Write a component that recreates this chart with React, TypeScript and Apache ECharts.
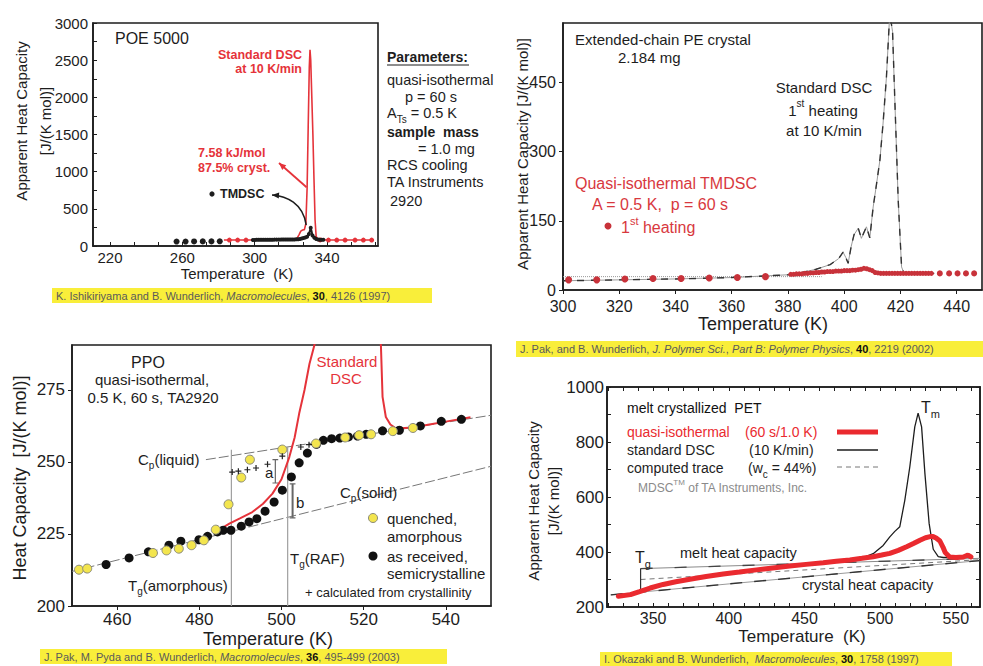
import React, { useEffect, useRef } from "react";
import * as echarts from "echarts";

const FONT = "'Liberation Sans', Arial, Helvetica, sans-serif";
const INK = "#1d1d1d";
const RED = "#e5333a";
const PET_RED = "#ea2a2f";
const HILITE = "#f9ee3a";
const YELLOW_DOT = "#f3e54e";

/* ---------- POE 5000 ---------- */
const POE_X_LABELS = [220, 260, 300, 340];
const POE_X_TICKS = [220, 233.3, 246.7, 260, 273.3, 286.7, 300, 313.3, 326.7, 340, 353.3, 366.7];
const POE_Y_LABELS = [0, 500, 1000, 1500, 2000, 2500, 3000];
const POE_Y_TICKS = [0, 250, 500, 750, 1000, 1250, 1500, 1750, 2000, 2250, 2500, 2750, 3000];
const POE_DSC_T = [283, 300, 320, 323, 324.5, 325.5, 326.5, 327.5, 328.3, 329, 329.6, 330.2, 330.6, 331, 331.6, 332.2, 332.8, 333.4, 334, 335, 340, 350, 366];
const POE_DSC_CP = [80, 80, 80, 85, 150, 200, 215, 220, 300, 780, 1600, 2400, 2640, 2500, 2000, 1500, 900, 350, 130, 85, 80, 80, 80];
const POE_DSC_DOT_T = [286, 290.6, 295.2, 336.2, 340.8, 345.4, 350, 355.5, 360.1, 364.7];
const POE_DSC_DOT_CP = [80, 80, 80, 82, 80, 80, 80, 80, 80, 80];
const POE_TM_T = [256.8, 261.8, 266.5, 271.3, 276.1, 280.7];
const POE_TM_CP = [60, 60, 61, 62, 62, 63];
const POE_TM_RUN_T = [299, 300, 301, 302, 303, 304, 305, 306, 307, 308, 309, 310, 311, 312, 313, 314, 315, 316, 317, 318, 319, 320, 321, 322, 323, 324, 325, 326, 327, 328, 329, 330, 331, 332, 333, 334, 335, 336, 337, 338];
const POE_TM_RUN_CP = [82, 82, 83, 83, 83, 84, 84, 84, 85, 85, 85, 85, 86, 86, 86, 86, 87, 87, 87, 87, 88, 88, 88, 88, 90, 92, 95, 100, 108, 115, 125, 160, 245, 140, 110, 95, 88, 85, 84, 84];

/* ---------- extended-chain PE ---------- */
const PE_X_LABELS = [300, 320, 340, 360, 380, 400, 420, 440];
const PE_Y_LABELS = [0, 150, 300, 450];
const PE_DSC_T = [300, 320, 340, 360, 380, 385, 390, 395, 398, 399.6, 400.6, 401.4, 402.5, 403.5, 405, 406.1, 407.9, 409.1, 410.3, 411.5, 412.7, 413.8, 415, 416.2, 417.2, 418, 419.2, 420.4, 421.3, 425, 432];
const PE_DSC_CP = [20, 22, 24, 27, 33, 38, 45, 55, 68, 82, 70, 58, 95, 120, 134, 112, 137, 113, 180, 230, 282, 360, 460, 600, 560, 412, 195, 50, 36, 36, 36];
const PE_BASE_T = [300, 392];
const PE_BASE_CP = [29, 29];
const PE_TM_T = [302, 312, 322, 332, 342, 352, 362, 372];
const PE_TM_CP = [22, 22, 24, 25, 25, 26, 27, 29];
const PE_TM_RUN_T = [381, 382, 383, 384, 385, 386, 387, 388, 389, 390, 391, 392, 393, 394, 395, 396, 397, 398, 399, 400, 401, 402, 403, 404, 405, 406, 407, 408, 409, 410, 411, 412, 413, 414, 415, 416, 417, 418, 419, 420, 421, 422, 423, 424, 425, 426, 427, 428, 429, 430, 431];
const PE_TM_RUN_CP = [34, 34, 35, 35, 35, 36, 36, 37, 37, 38, 38, 39, 39, 40, 40, 40, 41, 41, 41, 42, 42, 42, 43, 43, 44, 45, 47, 46, 44, 42, 38, 37, 36, 36, 36, 36, 36, 36, 36, 36, 36, 36, 36, 36, 36, 36, 36, 36, 36, 36, 36];
const PE_TM_TAIL_T = [434, 437.3, 440.3, 443.3, 446.2];
const PE_TM_TAIL_CP = [36, 36, 36, 36, 36];

/* ---------- PPO ---------- */
const PPO_X_LABELS = [460, 480, 500, 520, 540];
const PPO_Y_LABELS = [200, 225, 250, 275];
const PPO_BLACK_T = [457.3, 462.9, 467.6, 472.6, 475.5, 479.9, 482, 484.4, 485.8, 487.7, 490.2, 492.1, 494, 496, 498.2, 500.2, 502.4, 504.3, 506.3, 508.5, 510.2, 512.2, 514.2, 516.3, 518.5, 520.6, 524.6, 528.7, 533.8, 538.9, 543.8];
const PPO_BLACK_CP = [214.4, 216.7, 218.8, 221.1, 222.5, 223, 224.2, 225.7, 226.3, 226.3, 227.7, 229.2, 230.3, 232.9, 236.1, 240.2, 244.8, 249.7, 253.1, 256.1, 257.5, 258.1, 258.3, 258.7, 259, 259.6, 260.8, 261, 262.5, 264.1, 264.8];
const PPO_YELLOW_T = [450.7, 452.7, 468.7, 472, 475, 478.1, 481.1, 484, 487.1, 490.2, 492.3, 500.2, 508.4, 515.5, 518.9, 521.8, 527.1, 532];
const PPO_YELLOW_CP = [212.6, 213, 218.4, 219.3, 219.9, 221.1, 222.8, 226.5, 235.3, 244.6, 250.8, 254.3, 256.4, 258.5, 259.3, 259.6, 260.7, 261.8];
const PPO_PLUS_T = [488, 489.5, 491.7, 493.8, 496.6, 500.2, 504.7, 506.7];
const PPO_PLUS_CP = [246.5, 246.8, 247.3, 247.9, 249.2, 252, 255.2, 256];
const PPO_DSC_T = [485.5, 487.3, 490, 492.9, 495.5, 497.8, 500, 501.9, 503.2, 504.3, 505.6, 506.8, 508, 509, 510, 522, 523.5, 524.2, 524.6, 525.4, 526.5, 527.9, 532, 536, 540, 546];
const PPO_DSC_CP = [227, 228.6, 230.5, 232.6, 235.5, 239, 244, 251.7, 258.5, 266.8, 275, 284, 290.5, 300, 320, 320, 300, 290.5, 272.6, 265.6, 263, 261.6, 262, 263, 264, 265.5];
const PPO_LIQ_T = [481.6, 551];
const PPO_LIQ_CP = [250.8, 266.2];
const PPO_SOL_T = [449, 551];
const PPO_SOL_CP = [212, 248.5];
const PPO_TG_T = [487.8, 501.5];
const PPO_TG_TOP = [254.2, 255.2];
const PPO_BRACKET_T = [498.5, 502.7];
const PPO_BRACKET_LOW = [242.7, 230.6];
const PPO_BRACKET_HIGH = [250.8, 242.4];

/* ---------- PET ---------- */
const PET_X_LABELS = [350, 400, 450, 500, 550];
const PET_X_TICKS = [320, 330, 340, 350, 360, 370, 380, 390, 400, 410, 420, 430, 440, 450, 460, 470, 480, 490, 500, 510, 520, 530, 540, 550, 560];
const PET_Y_LABELS = [200, 400, 600, 800, 1000];
const PET_Y_TICKS = [200, 300, 400, 500, 600, 700, 800, 900, 1000];
const PET_QI_T = [327, 335, 341, 348, 356.6, 365, 374.3, 385, 396.3, 407, 418.3, 429, 440.3, 451, 462.4, 471, 480, 488, 495.4, 501, 506.4, 512, 517.5, 522, 526.3, 530, 533, 535, 537, 539.5, 541.5, 543, 546, 550, 555, 558, 560];
const PET_QI_CP = [239, 245, 256, 269, 282, 292, 301, 311, 320, 327, 335, 342, 349, 355, 361, 366, 371, 377, 383, 389, 395, 406, 419, 431, 443, 452, 456, 456, 451, 440, 418, 398, 382, 380, 382, 389, 382];
const PET_DSC_T = [470, 480, 484.4, 488.8, 495.4, 502, 506.4, 509.7, 513, 516.3, 519.6, 522.9, 525.1, 527.4, 529.6, 532.4, 535.1, 538.4, 541.7, 550, 560];
const PET_DSC_CP = [367, 369, 371, 380, 394, 424, 455, 475, 492, 588, 709, 855, 905, 855, 685, 503, 410, 383, 380, 380, 381];
const PET_MELT_T = [341.7, 566];
const PET_MELT_CP = [339.6, 377];
const PET_CALC_T = [341.7, 566];
const PET_CALC_CP = [300, 372];
const PET_CRYST_T = [322, 566];
const PET_CRYST_CP = [244, 369];
const PET_TG_T = 341.7;
const PET_TG_RANGE = [254, 339.6];

const pts = (xs: number[], ys: number[]) => xs.map((x, i) => [x, ys[i]]);
const on = (g: number) => ({ xAxisIndex: g, yAxisIndex: g });

function axis(
  grid: number,
  min: number,
  max: number,
  labels: number[],
  ticks: number[],
  o: { inside: boolean; size: number; margin: number; position?: string; hide?: boolean; width?: number }
) {
  return {
    type: "value",
    gridIndex: grid,
    min,
    max,
    position: o.position,
    axisLine: { show: true, onZero: false, lineStyle: { color: INK, width: o.width ?? 1.6 } },
    axisTick: { show: true, inside: o.inside, length: 4, customValues: ticks, lineStyle: { color: INK, width: 1 } },
    axisLabel: {
      show: !o.hide,
      customValues: labels,
      margin: o.margin,
      fontSize: o.size,
      fontFamily: FONT,
      color: INK,
      hideOverlap: false,
      formatter: (v: number) => String(v),
    },
    splitLine: { show: false },
  };
}

function lineSeries(g: number, data: number[][], color: string, width: number, extra: any = {}) {
  return {
    type: "line",
    ...on(g),
    data,
    symbol: "none",
    silent: true,
    clip: true,
    z: extra.z ?? 2,
    lineStyle: { color, width, type: extra.type ?? "solid", cap: extra.cap ?? "butt" },
  };
}

function dotSeries(g: number, data: number[][], color: string, size: number, extra: any = {}) {
  return {
    type: "scatter",
    ...on(g),
    data,
    symbol: extra.symbol ?? "circle",
    symbolSize: size,
    silent: true,
    z: extra.z ?? 3,
    itemStyle: { color, borderColor: extra.border ?? color, borderWidth: extra.borderWidth ?? 0, opacity: 1 },
  };
}

function buildOption() {
  const grids = [
    { left: 93, top: 23, width: 285, height: 223 },
    { left: 563, top: 23, width: 419, height: 267 },
    { left: 72, top: 345, width: 419, height: 261 },
    { left: 607, top: 387, width: 373, height: 220 },
  ].map((g) => ({
    ...g,
    show: true,
    borderColor: INK,
    borderWidth: 1.6,
    backgroundColor: "transparent",
    containLabel: false,
    outerBoundsMode: "none",
  }));

  const xAxis = [
    axis(0, 210.6, 368.2, POE_X_LABELS, POE_X_TICKS, { inside: true, size: 15, margin: 4 }),
    axis(1, 300, 449, PE_X_LABELS, PE_X_LABELS, { inside: false, size: 16, margin: 8 }),
    axis(2, 449, 551, PPO_X_LABELS, PPO_X_LABELS, { inside: false, size: 17, margin: 5 }),
    axis(3, 319.5, 566, PET_X_LABELS, PET_X_TICKS, { inside: true, size: 16, margin: 3 }),
    axis(3, 319.5, 566, PET_X_LABELS, PET_X_TICKS, { inside: true, size: 16, margin: 3, position: "top", hide: true }),
  ];
  const yAxis = [
    axis(0, 0, 3000, POE_Y_LABELS, POE_Y_TICKS, { inside: true, size: 15, margin: 5 }),
    axis(1, 0, 579, PE_Y_LABELS, PE_Y_LABELS, { inside: false, size: 16, margin: 7 }),
    axis(2, 200, 290.6, PPO_Y_LABELS, PPO_Y_LABELS, { inside: false, size: 17, margin: 7 }),
    axis(3, 200, 1000, PET_Y_LABELS, PET_Y_TICKS, { inside: true, size: 17, margin: 3 }),
    axis(3, 200, 1000, PET_Y_LABELS, PET_Y_TICKS, { inside: true, size: 17, margin: 3, position: "right", hide: true }),
  ];

  // reference lines of the PPO panel: glass-transition markers and the a / b brackets
  const ppoRefs: any[] = [];
  PPO_TG_T.forEach((t, i) => ppoRefs.push(lineSeries(2, [[t, 200], [t, PPO_TG_TOP[i]]], "#a0a0a0", 1.2)));
  PPO_BRACKET_T.forEach((t, i) => {
    const lo = PPO_BRACKET_LOW[i];
    const hi = PPO_BRACKET_HIGH[i];
    const w = i === 0 ? 1.2 : 2;
    ppoRefs.push(lineSeries(2, [[t, lo], [t, hi]], "#666", w));
    ppoRefs.push(lineSeries(2, [[t - 0.7, lo], [t + 0.7, lo]], "#666", 1.2));
    ppoRefs.push(lineSeries(2, [[t - 0.7, hi], [t + 0.7, hi]], "#666", 1.2));
  });

  const series: any[] = [
    // POE 5000
    lineSeries(0, pts(POE_DSC_T, POE_DSC_CP), RED, 1.6),
    dotSeries(0, pts(POE_DSC_DOT_T, POE_DSC_DOT_CP), RED, 5),
    {
      ...lineSeries(0, pts(POE_TM_RUN_T, POE_TM_RUN_CP), INK, 2),
      symbol: "circle",
      symbolSize: 4,
      showSymbol: true,
      itemStyle: { color: INK },
      z: 4,
    },
    dotSeries(0, pts(POE_TM_T, POE_TM_CP), INK, 6),

    // extended-chain PE
    lineSeries(1, pts(PE_BASE_T, PE_BASE_CP), "#999", 1, { type: "dotted" }),
    lineSeries(1, pts(PE_DSC_T, PE_DSC_CP), "#9a9a9a", 1),
    lineSeries(1, pts(PE_DSC_T, PE_DSC_CP), "#333", 1.4, { type: [7, 7] }),
    {
      ...lineSeries(1, pts(PE_TM_RUN_T, PE_TM_RUN_CP), "#c8323a", 2.5),
      symbol: "circle",
      symbolSize: 5,
      showSymbol: true,
      itemStyle: { color: "#c8323a" },
      z: 4,
    },
    dotSeries(1, pts(PE_TM_T, PE_TM_CP), "#c8323a", 7),
    dotSeries(1, pts(PE_TM_TAIL_T, PE_TM_TAIL_CP), "#c8323a", 6),

    // PPO
    lineSeries(2, pts(PPO_SOL_T, PPO_SOL_CP), "#777", 1, { type: [10, 3] }),
    lineSeries(2, pts(PPO_LIQ_T, PPO_LIQ_CP), "#777", 1, { type: [10, 3] }),
    ...ppoRefs,
    lineSeries(2, pts(PPO_DSC_T, PPO_DSC_CP), RED, 2),
    dotSeries(2, pts(PPO_BLACK_T, PPO_BLACK_CP), "#111", 9, { z: 4 }),
    dotSeries(2, pts(PPO_YELLOW_T, PPO_YELLOW_CP), YELLOW_DOT, 9, { border: "#8a8a7a", borderWidth: 1, z: 5 }),
    dotSeries(2, pts(PPO_PLUS_T, PPO_PLUS_CP), "#222", 6, {
      symbol: "path://M4,0H6V4H10V6H6V10H4V6H0V4H4Z",
      z: 6,
    }),

    // PET
    lineSeries(3, pts(PET_CRYST_T, PET_CRYST_CP), "#9a9a9a", 1),
    lineSeries(3, pts(PET_CRYST_T, PET_CRYST_CP), "#333", 1.4, { type: [12, 12] }),
    lineSeries(3, pts(PET_CALC_T, PET_CALC_CP), "#777", 1, { type: [5, 4] }),
    lineSeries(3, pts(PET_MELT_T, PET_MELT_CP), "#8a8a8a", 1),
    lineSeries(3, pts(PET_MELT_T, PET_MELT_CP), "#444", 1.3, { type: [12, 22] }),
    lineSeries(3, [[PET_TG_T, PET_TG_RANGE[0]], [PET_TG_T, PET_TG_RANGE[1]]], "#333", 1.2),
    lineSeries(3, pts(PET_DSC_T, PET_DSC_CP), INK, 1.3, { z: 3 }),
    lineSeries(3, pts(PET_QI_T, PET_QI_CP), PET_RED, 5, { z: 4, cap: "round" }),
  ];

  return {
    animation: false,
    backgroundColor: "#fff",
    textStyle: { fontFamily: FONT },
    grid: grids,
    xAxis,
    yAxis,
    series,
  };
}

function richSet(size: number, fill: string, weight = "normal") {
  const lh = size + 8;
  const small = Math.round(size * 0.68);
  return {
    n: { fontSize: size, fontFamily: FONT, fill, fontWeight: weight, lineHeight: lh },
    b: { fontSize: size, fontFamily: FONT, fill: "#111", fontWeight: "bold", lineHeight: lh },
    i: { fontSize: size, fontFamily: FONT, fill, fontStyle: "italic", fontWeight: weight, lineHeight: lh },
    s: { fontSize: small, fontFamily: FONT, fill, fontWeight: weight, verticalAlign: "top", lineHeight: small + 1 },
    u: { fontSize: small, fontFamily: FONT, fill, fontWeight: weight, verticalAlign: "bottom", lineHeight: small + 1 },
  };
}

function txt(x: number, y: number, text: string, size: number, o: any = {}) {
  const fill = o.fill ?? INK;
  const weight = o.weight ?? "normal";
  const rich = text.indexOf("{") >= 0;
  return {
    type: "text",
    x,
    y,
    rotation: o.rot ?? 0,
    silent: true,
    z: 100,
    style: {
      text,
      fill,
      fontSize: size,
      fontFamily: FONT,
      fontWeight: weight,
      fontStyle: o.italic ? "italic" : "normal",
      align: o.align ?? "left",
      verticalAlign: "middle",
      rich: rich ? richSet(size, fill, weight) : undefined,
    },
  };
}

function citation(x: number, y: number, w: number, h: number, text: string) {
  return [
    { type: "rect", shape: { x, y, width: w, height: h }, style: { fill: HILITE }, silent: true, z: 90 },
    txt(x + 4, y + h / 2, text, 11, { fill: "#5a5a5a" }),
  ];
}

function arrowHead(tip: number[], from: number[], color: string) {
  const dx = tip[0] - from[0];
  const dy = tip[1] - from[1];
  const len = Math.hypot(dx, dy) || 1;
  const ux = dx / len;
  const uy = dy / len;
  const bx = tip[0] - ux * 7;
  const by = tip[1] - uy * 7;
  return {
    type: "polygon",
    silent: true,
    z: 100,
    shape: { points: [tip, [bx - uy * 3, by + ux * 3], [bx + uy * 3, by - ux * 3]] },
    style: { fill: color },
  };
}

function buildGraphic(chart: any) {
  const px = (g: number, p: number[]) => chart.convertToPixel({ gridIndex: g }, p) as number[];
  const g: any[] = [];

  // POE 5000 annotations
  g.push(txt(115, 38, "POE 5000", 16));
  g.push(txt(302, 55, "Standard DSC", 12.5, { fill: RED, weight: "bold", align: "right" }));
  g.push(txt(302, 69, "at 10 K/min", 12.5, { fill: RED, weight: "bold", align: "right" }));
  g.push(txt(198, 153, "7.58 kJ/mol", 12.5, { fill: RED, weight: "bold" }));
  g.push(txt(198, 168, "87.5% cryst.", 12.5, { fill: RED, weight: "bold" }));
  const redFrom = px(0, [328.7, 790]);
  const redTip = [279, 163];
  g.push({ type: "line", silent: true, z: 100, shape: { x1: redFrom[0], y1: redFrom[1], x2: redTip[0], y2: redTip[1] }, style: { stroke: RED, lineWidth: 1.8 } });
  g.push(arrowHead(redTip, redFrom, RED));
  g.push({ type: "circle", silent: true, z: 100, shape: { cx: 212, cy: 194, r: 2.6 }, style: { fill: INK } });
  g.push(txt(220, 194, "TMDSC", 12.5, { weight: "bold" }));
  const blkFrom = px(0, [328.5, 280]);
  const blkTip = [272, 195];
  const c2 = [blkFrom[0] - 20, blkTip[1] + 1];
  g.push({
    type: "bezierCurve",
    silent: true,
    z: 100,
    shape: { x1: blkFrom[0], y1: blkFrom[1], cpx1: blkFrom[0] - 3, cpy1: blkFrom[1] - 22, cpx2: c2[0], cpy2: c2[1], x2: blkTip[0], y2: blkTip[1] },
    style: { stroke: INK, lineWidth: 1.5, fill: "none" },
  });
  g.push(arrowHead(blkTip, c2, INK));

  g.push(txt(387, 57, "Parameters:", 14, { weight: "bold" }));
  g.push({ type: "line", silent: true, z: 100, shape: { x1: 387, y1: 65, x2: 469, y2: 65 }, style: { stroke: INK, lineWidth: 1 } });
  g.push(txt(387, 80, "quasi-isothermal", 14.5));
  g.push(txt(405, 97, "p = 60 s", 14.5));
  g.push(txt(387, 113, "{n|A}{u|Ts}{n| = 0.5 K}", 14.5));
  g.push(txt(387, 132, "sample  mass", 14, { weight: "bold" }));
  g.push(txt(418, 149, "= 1.0 mg", 14.5));
  g.push(txt(387, 165, "RCS cooling", 14.5));
  g.push(txt(387, 182, "TA Instruments", 14.5));
  g.push(txt(390, 201, "2920", 14.5));
  g.push(txt(21, 121, "Apparent Heat Capacity", 15, { rot: Math.PI / 2, align: "center" }));
  g.push(txt(45, 121, "[J/(K mol)]", 15, { rot: Math.PI / 2, align: "center" }));
  g.push(txt(237, 273, "Temperature  (K)", 15, { align: "center" }));
  g.push(...citation(52, 288, 380, 15, "{n|K. Ishikiriyama and B. Wunderlich, }{i|Macromolecules}{n|, }{b|30}{n|, 4126 (1997)}"));

  // extended-chain PE annotations
  g.push(txt(575, 39, "Extended-chain PE crystal", 15));
  g.push(txt(618, 57, "2.184 mg", 15));
  g.push(txt(824, 87, "Standard DSC", 15, { align: "center" }));
  g.push(txt(823, 110, "{n|1}{s|st}{n| heating}", 15, { align: "center" }));
  g.push(txt(824, 130, "at 10 K/min", 15, { align: "center" }));
  g.push(txt(575, 183, "Quasi-isothermal TMDSC", 16, { fill: "#d8383e" }));
  g.push(txt(592, 204, "A = 0.5 K,  p = 60 s", 16, { fill: "#d8383e" }));
  g.push({ type: "circle", silent: true, z: 100, shape: { cx: 608, cy: 226, r: 3.5 }, style: { fill: "#c8323a" } });
  g.push(txt(621, 227, "{n|1}{s|st}{n| heating}", 16, { fill: "#d8383e" }));
  g.push(txt(522, 154, "Apparent Heat Capacity [J/(K mol)]", 15, { rot: Math.PI / 2, align: "center" }));
  g.push(txt(763, 324, "Temperature (K)", 18, { align: "center" }));
  g.push(...citation(516, 341, 470, 16, "{n|J. Pak, and B. Wunderlich, }{i|J. Polymer Sci.}{n|, }{i|Part B: Polymer Physics}{n|, }{b|40}{n|, 2219 (2002)}"));

  // PPO annotations
  g.push(txt(148, 362, "PPO", 16, { align: "center" }));
  g.push(txt(152, 379, "quasi-isothermal,", 15, { align: "center" }));
  g.push(txt(153, 397, "0.5 K, 60 s, TA2920", 15, { align: "center" }));
  g.push(txt(347, 361.5, "Standard", 15, { fill: RED, align: "center" }));
  g.push(txt(346, 378, "DSC", 15, { fill: RED, align: "center" }));
  g.push(txt(138, 459, "{n|C}{u|p}{n|(liquid)}", 15));
  g.push(txt(340, 492, "{n|C}{u|p}{n|(solid)}", 15));
  g.push(txt(265, 472, "a", 15));
  g.push(txt(296, 502, "b", 15));
  g.push(txt(128, 585, "{n|T}{u|g}{n|(amorphous)}", 15));
  g.push(txt(290, 558, "{n|T}{u|g}{n|(RAF)}", 15));
  g.push({ type: "circle", silent: true, z: 100, shape: { cx: 373, cy: 518, r: 4.5 }, style: { fill: YELLOW_DOT, stroke: "#8a8a7a", lineWidth: 1 } });
  g.push({ type: "circle", silent: true, z: 100, shape: { cx: 373, cy: 556, r: 4.5 }, style: { fill: "#111" } });
  g.push(txt(387, 518, "quenched,", 15));
  g.push(txt(387, 536, "amorphous", 15));
  g.push(txt(387, 556, "as received,", 15));
  g.push(txt(387, 573, "semicrystalline", 15));
  g.push(txt(305, 592, "+ calculated from crystallinity", 13));
  g.push(txt(20, 478, "Heat Capacity  [J/(K mol)]", 18, { rot: Math.PI / 2, align: "center" }));
  g.push(txt(268, 639, "Temperature (K)", 18, { align: "center" }));
  g.push(...citation(40, 649, 407, 15, "{n|J. Pak, M. Pyda and B. Wunderlich, }{i|Macromolecules}{n|, }{b|36}{n|, 495-499 (2003)}"));

  // PET annotations
  g.push(txt(627, 408, "melt crystallized  PET", 14, { fill: "#111" }));
  g.push(txt(627, 432, "quasi-isothermal", 14, { fill: PET_RED }));
  g.push(txt(745, 432, "(60 s/1.0 K)", 14, { fill: PET_RED }));
  g.push(txt(627, 450, "standard DSC", 14));
  g.push(txt(749, 450, "(10 K/min)", 14));
  g.push(txt(627, 468, "computed trace", 14));
  g.push(txt(748, 468, "{n|(w}{u|c}{n| = 44%)}", 14));
  g.push({ type: "line", silent: true, z: 100, shape: { x1: 837, y1: 432, x2: 878, y2: 432 }, style: { stroke: PET_RED, lineWidth: 5 } });
  g.push({ type: "line", silent: true, z: 100, shape: { x1: 837, y1: 450, x2: 878, y2: 450 }, style: { stroke: INK, lineWidth: 1.3 } });
  g.push({ type: "line", silent: true, z: 100, shape: { x1: 837, y1: 467, x2: 878, y2: 467 }, style: { stroke: "#777", lineWidth: 1, lineDash: [5, 4] } });
  g.push(txt(638, 488, "{n|MDSC}{s|TM}{n| of TA Instruments, Inc.}", 12, { fill: "#8a8a8a" }));
  g.push(txt(921, 407, "{n|T}{u|m}", 16));
  g.push(txt(635, 557, "{n|T}{u|g}", 16));
  g.push(txt(680, 553, "melt heat capacity", 14.5));
  g.push(txt(802, 585, "crystal heat capacity", 14.5));
  g.push(txt(533, 501, "Apparent Heat Capacity", 15, { rot: Math.PI / 2, align: "center" }));
  g.push(txt(553, 501, "[J/(K mol)]", 15, { rot: Math.PI / 2, align: "center" }));
  g.push(txt(802, 636, "Temperature  (K)", 17, { align: "center" }));
  g.push(...citation(600, 652, 352, 14, "{n|I. Okazaki and B. Wunderlich,  }{i|Macromolecules}{n|, }{b|30}{n|, 1758 (1997)}"));

  return g;
}

export default function App() {
  const ref = useRef<HTMLDivElement>(null);
  useEffect(() => {
    const el = ref.current;
    if (!el) return;
    const chart = echarts.init(el, null, { renderer: "svg" });
    chart.setOption(buildOption() as any);
    chart.setOption({ graphic: buildGraphic(chart) } as any);
    return () => chart.dispose();
  }, []);
  return (
    <div
      ref={ref}
      style={{ position: "absolute", left: 0, top: 0, width: 983, height: 666, background: "#fff" }}
    />
  );
}
